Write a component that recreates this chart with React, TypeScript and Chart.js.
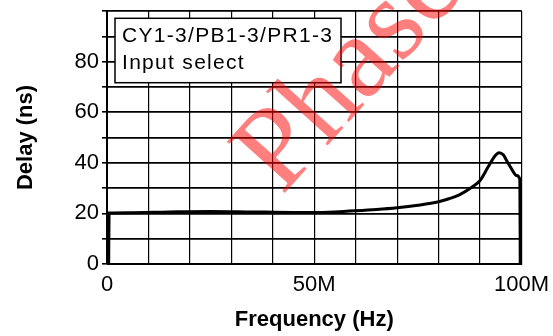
import React, { useEffect, useRef } from 'react';
import { Chart, registerables } from 'chart.js';

Chart.register(...registerables);

// Frequency in MHz (x) and delay in ns (y)
const freqMHz = [0.4, 0.5, 5, 15, 25, 35, 45, 50, 55, 60, 65, 70, 75, 80, 82.5, 85, 88, 90, 92, 93.5, 94.6, 95.6, 96.5, 97.6, 98.8, 99.6, 99.7];
const delayNs = [0, 20.2, 20.3, 20.6, 20.8, 20.6, 20.4, 20.4, 20.6, 21.0, 21.5, 22.2, 23.2, 24.6, 25.8, 27.3, 30.3, 33.0, 38.5, 42.5, 44.0, 43.2, 40.6, 37.6, 35.0, 33.5, 0];

const xTickLabels: Record<number, string> = { 0: '0', 50: '50M', 100: '100M' };
const yTickLabels = [0, 20, 40, 60, 80];
const legendLines = ['CY1-3/PB1-3/PR1-3', 'Input select'];
const watermark = 'Phase';
const xTitle = 'Frequency (Hz)';
const yTitle = 'Delay (ns)';

export default function App() {
  const ref = useRef<HTMLCanvasElement>(null);

  useEffect(() => {
    document.body.style.margin = '0';
    const canvas = ref.current;
    if (!canvas) return;

    const overlay = {
      id: 'overlay',
      afterDatasetsDraw(chart: any) {
        // horizontal grid lines at the y scale's own ticks
        const { ctx, chartArea: a, scales } = chart;
        const ys = scales.y;
        ctx.save();
        ctx.strokeStyle = '#000';
        ctx.lineWidth = 1.6;
        ys.ticks.forEach((t: any) => {
          const py = Math.round(ys.getPixelForValue(t.value) - 0.8) + 0.8;
          ctx.beginPath();
          ctx.moveTo(a.left, py);
          ctx.lineTo(a.right, py);
          ctx.stroke();
        });
        ctx.restore();
      },
      afterDraw(chart: any) {
        const { ctx, chartArea: a } = chart;
        ctx.save();
        const bx = a.left + 8;
        const by = a.top + 7.3;
        const bw = 226;
        const bh = 64.4;
        ctx.fillStyle = '#fff';
        ctx.fillRect(bx, by, bw, bh);
        ctx.strokeStyle = '#000';
        ctx.lineWidth = 1.5;
        ctx.strokeRect(bx, by, bw, bh);
        ctx.fillStyle = '#000';
        ctx.font = '21px "Liberation Sans", Arial, sans-serif';
        (ctx as any).letterSpacing = '1.3px';
        ctx.textBaseline = 'alphabetic';
        ctx.textAlign = 'left';
        ctx.fillText(legendLines[0], bx + 7, by + 23.7);
        ctx.fillText(legendLines[1], bx + 7, by + 50.7);
        ctx.restore();

        ctx.save();
        ctx.translate(282, 196);
        ctx.rotate((-48 * Math.PI) / 180);
        ctx.font = '118px "Liberation Serif", "Times New Roman", serif';
        ctx.fillStyle = 'rgba(255,0,0,0.5)';
        ctx.textBaseline = 'alphabetic';
        ctx.textAlign = 'left';
        ctx.fillText(watermark, 0, 0);
        ctx.restore();
      },
    };

    const chart = new Chart(canvas, {
      type: 'line',
      data: {
        datasets: [
          {
            data: freqMHz.map((f, i) => ({ x: f, y: delayNs[i] })),
            borderColor: '#000',
            borderWidth: 3,
            pointRadius: 0,
            cubicInterpolationMode: 'monotone',
            fill: false,
          },
        ],
      },
      options: {
        animation: false,
        responsive: false,
        layout: { padding: { left: 8.5, right: 31.5, top: 11, bottom: 0 } },
        plugins: { legend: { display: false }, tooltip: { enabled: false } },
        scales: {
          x: {
            type: 'linear',
            min: 0,
            max: 100,
            afterFit(scale: any) {
              scale.height = 72;
              scale.paddingLeft = 0;
              scale.paddingRight = 0;
            },
            ticks: {
              stepSize: 10,
              autoSkip: false,
              maxRotation: 0,
              color: '#000',
              padding: 8,
              font: { size: 22, family: '"Liberation Sans", Arial, sans-serif' },
              callback: (v: any) => (xTickLabels[v as number] ?? ''),
            },
            grid: { color: '#000', lineWidth: 1.2, drawTicks: false },
            border: { color: '#000' },
            title: {
              display: true,
              text: xTitle,
              color: '#000',
              font: { size: 22, weight: 'bold', family: '"Liberation Sans", Arial, sans-serif' },
              padding: { top: 0, bottom: 2.8 },
            },
          },
          y: {
            type: 'linear',
            min: 0,
            max: 100,
            afterFit(scale: any) {
              scale.width = 98.5;
              scale.paddingTop = 0;
              scale.paddingBottom = 0;
            },
            ticks: {
              stepSize: 10,
              autoSkip: false,
              color: '#000',
              font: { size: 22, family: '"Liberation Sans", Arial, sans-serif' },
              callback: (v: any) => (yTickLabels.includes(v as number) ? String(v) : ''),
            },
            grid: { color: '#000', lineWidth: 1.6, tickLength: 5 },
            border: { color: '#000' },
            title: {
              display: true,
              text: yTitle,
              color: '#000',
              font: { size: 22, weight: 'bold', family: '"Liberation Sans", Arial, sans-serif' },
            },
          },
        },
      },
      plugins: [overlay],
    } as any);

    return () => chart.destroy();
  }, []);

  return <canvas ref={ref} width={553} height={336} style={{ display: 'block' }} />;
}
